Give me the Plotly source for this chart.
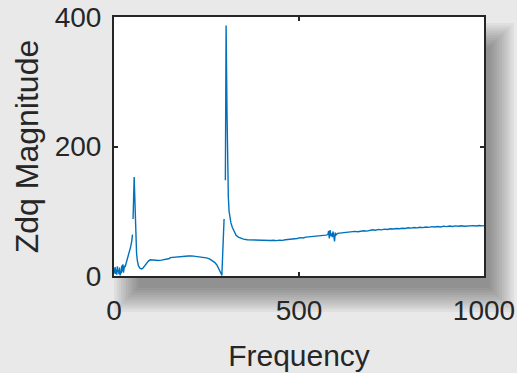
import plotly.graph_objects as go

# ---- data (frequency, magnitude); None = gap in line
freq_low = [0, 1.5, 3, 4.5, 6, 7.5, 9, 10.5, 12, 13.5, 15, 16.5, 18, 19.5, 21, 22.5, 24, 25.5, 27, 28.5, 30,
            33, 36, 39, 42, 45, 48, 50]
mag_low = [12, 4, 14, 3, 10, 2, 15, 6, 9, 3, 13, 1, 8, 4, 16, 7, 18, 5, 12, 16, 14,
           20, 25, 30, 37, 45, 54, 64]

freq_mid = [51.5, 53, 54.5, 56, 57.5, 59, 61, 63, 66, 70, 74, 78, 83, 88, 93, 98, 105, 112, 120, 128,
            136, 144, 150, 152, 160, 170, 180, 190, 200, 210, 220, 230, 240, 250, 258, 265, 272, 278,
            283, 287, 290, 291.5, 293, 295, 296.5, 297.5]
mag_mid = [88, 125, 153, 125, 85, 55, 35, 24, 16, 12, 11, 12, 16, 20, 23, 25, 24.5, 24, 24, 24.5,
           25, 26, 27, 28.5, 29, 29.5, 30, 30.5, 31, 31, 30.5, 30, 29, 28, 26.5, 24, 21, 17,
           12, 7, 3, 1, 18, 45, 70, 88]

freq_high = [301, 302, 303, 304, 305.5, 307, 309, 311, 313, 316, 320, 325, 330, 336, 343, 350, 360, 368,
             375, 383, 391, 399, 407, 415, 423, 431, 439, 447, 455, 463, 471, 479, 487, 495, 503, 511,
             519, 527, 535, 543, 551, 559, 567, 573, 578, 580, 582, 584, 586, 588, 590, 592, 594, 596,
             598, 600, 604, 611, 619, 627, 635, 643, 651, 659, 667, 675, 683, 691, 699, 707, 715, 723,
             731, 739, 747, 755, 763, 771, 779, 787, 795, 803, 811, 819, 827, 835, 843, 851, 859, 867,
             875, 883, 891, 899, 907, 915, 923, 931, 939, 947, 955, 963, 971, 979, 987, 995, 1000]
mag_high = [148, 270, 387, 330, 250, 170, 122, 100, 90, 82, 75, 68, 63, 60, 58, 57, 56, 55.8,
            55.6, 55.0, 55.3, 54.6, 54.9, 54.3, 54.8, 55.2, 54.6, 55.4, 55.0, 55.9, 56.3, 56.8, 57.6, 57.9, 59.3, 58.8,
            60.1, 60.6, 60.2, 61.5, 61.8, 62.3, 62.0, 63.2, 64.0, 69.5, 58.0, 71.0, 61.5, 66.0, 60.0, 68.5, 62.0, 53.5,
            67.0, 63.5, 65.8, 66.2, 67.4, 66.8, 68.1, 67.6, 68.9, 68.4, 69.6, 69.9, 69.3, 70.8, 71.4, 70.7, 71.9, 71.3,
            72.4, 71.8, 73.0, 72.5, 73.4, 72.9, 73.8, 73.3, 74.5, 73.9, 74.8, 74.3, 75.3, 74.7, 75.6, 75.1, 76.2, 75.6,
            76.4, 75.8, 77.0, 76.2, 77.3, 76.5, 77.4, 76.8, 77.7, 76.9, 77.5, 77.0, 77.8, 77.2, 77.9, 77.4, 77.8]

x_ticks = [0, 500, 1000]
y_ticks = [0, 200, 400]
x_label = "Frequency"
y_label = "Zdq Magnitude"

freq = freq_low + [None] + freq_mid + [None] + freq_high
mag = mag_low + [None] + mag_mid + [None] + mag_high

INK = "#262626"
fig = go.Figure()
fig.add_trace(go.Scatter(x=freq, y=mag, mode="lines", connectgaps=False,
                         line=dict(color="#0072BD", width=1.4), showlegend=False))

# blurred drop shadow behind the axes box (paper coordinates)
W, H = 517, 373
L, R, T, B = 114, 484, 17, 276
pw, ph = R - L, B - T

def px_to_paper(x0, y0, x1, y1):
    return dict(x0=(x0 - L) / pw, x1=(x1 - L) / pw, y0=(B - y1) / ph, y1=(B - y0) / ph)

shapes = []
for i in range(11):
    s = 2.4 * i
    shapes.append(dict(type="rect", xref="paper", yref="paper", layer="below",
                       fillcolor="rgba(0,0,0,0.04)", line=dict(width=0),
                       **px_to_paper(L + 24 - s, T + 30 - s, R + 6 + s, B + 12 + s)))
shapes.append(dict(type="rect", xref="paper", yref="paper", layer="below",
                   x0=0, x1=1, y0=0, y1=1, fillcolor="white", line=dict(width=0)))

fig.update_layout(
    width=W, height=H,
    margin=dict(l=L, r=W - R, t=T, b=H - B),
    paper_bgcolor="#e9e9e9", plot_bgcolor="rgba(0,0,0,0)",
    font=dict(family="Liberation Sans, Arial, sans-serif", color=INK),
    shapes=shapes,
)
fig.update_xaxes(range=[0, 1000], tickvals=x_ticks, ticktext=[str(v) for v in x_ticks],
                 ticks="inside", ticklen=4, tickwidth=1.5, tickcolor=INK,
                 showline=True, linewidth=2, linecolor=INK, mirror="ticks",
                 showgrid=False, zeroline=False, tickfont=dict(size=28, color=INK),
                 automargin=False, ticklabelstandoff=8,
                 title=dict(text=x_label, font=dict(size=30, color=INK), standoff=20))
fig.update_yaxes(range=[0, 400], tickvals=y_ticks, ticktext=[str(v) for v in y_ticks],
                 ticks="inside", ticklen=4, tickwidth=1.5, tickcolor=INK,
                 showline=True, linewidth=2, linecolor=INK, mirror="ticks",
                 showgrid=False, zeroline=False, tickfont=dict(size=28, color=INK),
                 automargin=False, ticklabelstandoff=5,
                 title=dict(text=y_label, font=dict(size=32, color=INK), standoff=6))

fig.write_html("out.html", config={"displayModeBar": False},
               post_script="document.body.style.margin='0';document.body.style.overflow='hidden';")
